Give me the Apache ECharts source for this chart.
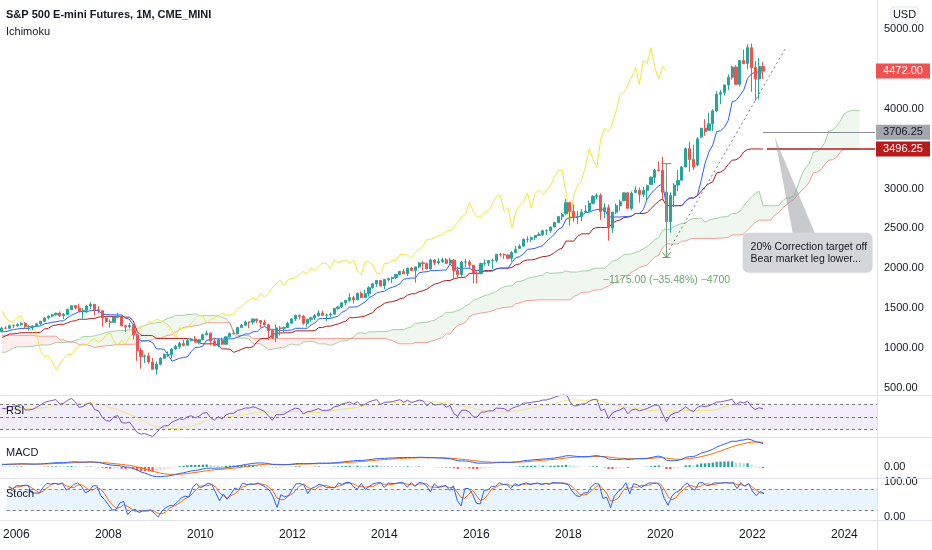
<!DOCTYPE html>
<html><head><meta charset="utf-8">
<script src="https://cdn.jsdelivr.net/npm/echarts@6/dist/echarts.min.js"></script>
<style>html,body{margin:0;padding:0;background:#fff}#c{width:932px;height:550px}</style>
</head><body><div id="c"></div>
<script>
// ---------------- DATA ----------------
const dataStart = [1999, 7];           // first month of the OHLC rows
// monthly [open, high, low, close]
const ohlc1999_2002 = [
[1373,1420,1325,1329],[1329,1357,1268,1320],[1320,1361,1268,1283],[1283,1373,1233,1363],[1363,1424,1343,1389],[1389,1473,1387,1469],
[1469,1478,1350,1395],[1395,1445,1326,1366],[1366,1553,1346,1499],[1499,1528,1339,1452],[1452,1481,1361,1421],[1421,1475,1420,1455],
[1455,1518,1413,1431],[1431,1525,1423,1518],[1518,1531,1419,1437],[1437,1439,1305,1429],[1429,1438,1307,1315],[1315,1389,1254,1320],
[1320,1384,1274,1366],[1366,1377,1215,1240],[1240,1264,1081,1160],[1160,1269,1091,1250],[1250,1316,1232,1256],[1256,1287,1203,1224],
[1224,1240,1165,1211],[1211,1226,1124,1134],[1134,1143,945,1041],[1041,1111,1027,1060],[1060,1164,1054,1140],[1140,1173,1114,1148],
[1148,1176,1101,1130],[1130,1131,1074,1107],[1107,1173,1106,1147],[1147,1147,1063,1077],[1077,1106,1049,1067],[1067,1070,953,990],
[990,994,775,912],[912,965,833,916],[916,925,815,815],[815,907,768,886],[886,952,872,936],[936,954,872,880]
];
const ohlc2003_2008 = [
[880,935,840,856],[856,864,806,841],[841,896,789,848],[848,925,847,917],[917,965,902,964],[964,1015,963,975],
[975,1015,962,990],[990,1012,960,1008],[1008,1040,990,996],[996,1054,996,1051],[1051,1064,1031,1058],[1058,1112,1057,1112],
[1112,1155,1106,1131],[1131,1159,1124,1145],[1145,1164,1087,1126],[1126,1150,1107,1107],[1107,1128,1076,1121],[1121,1147,1113,1141],
[1141,1141,1078,1102],[1102,1109,1060,1104],[1104,1131,1102,1115],[1115,1138,1090,1130],[1130,1188,1128,1174],[1174,1217,1163,1212],
[1212,1217,1164,1181],[1181,1212,1180,1204],[1204,1229,1174,1181],[1181,1192,1137,1157],[1157,1200,1146,1192],[1192,1219,1188,1191],
[1191,1245,1183,1234],[1234,1245,1201,1220],[1220,1243,1206,1229],[1229,1233,1168,1207],[1207,1270,1201,1250],[1250,1276,1245,1248],
[1248,1295,1245,1280],[1280,1297,1253,1281],[1281,1310,1268,1295],[1295,1326,1280,1311],[1311,1326,1245,1270],[1270,1290,1219,1270],
[1270,1283,1225,1277],[1277,1310,1265,1304],[1304,1340,1290,1336],[1336,1389,1327,1378],[1378,1407,1360,1401],[1401,1431,1385,1418],
[1418,1441,1403,1438],[1438,1461,1389,1407],[1407,1439,1364,1421],[1421,1499,1416,1482],[1482,1535,1476,1531],[1531,1540,1484,1503],
[1503,1556,1453,1455],[1455,1504,1371,1474],[1474,1538,1439,1527],[1527,1576,1490,1549],[1549,1552,1407,1481],[1481,1524,1435,1468],
[1468,1471,1270,1379],[1379,1396,1317,1331],[1331,1359,1257,1323],[1323,1397,1312,1386],[1386,1441,1373,1400],[1400,1405,1272,1280],
[1280,1292,1200,1267],[1267,1314,1247,1283],[1283,1304,1107,1166],[1166,1167,840,969],[969,1007,741,896],[896,919,815,903]
];
const ohlc2009_2014 = [
[903,944,805,826],[826,875,735,735],[735,832,666,798],[798,888,784,873],[873,930,866,919],[919,957,888,919],
[919,997,869,988],[988,1040,979,1021],[1021,1080,991,1057],[1057,1102,1020,1036],[1036,1112,1030,1096],[1096,1130,1086,1115],
[1115,1151,1071,1074],[1074,1112,1045,1104],[1104,1181,1102,1169],[1169,1220,1157,1187],[1187,1197,1040,1089],[1089,1131,1028,1031],
[1031,1120,1011,1102],[1102,1130,1040,1049],[1049,1149,1040,1141],[1141,1196,1131,1183],[1183,1228,1173,1181],[1181,1263,1181,1258],
[1258,1303,1257,1286],[1286,1344,1284,1327],[1327,1332,1249,1326],[1326,1370,1295,1364],[1364,1371,1312,1345],[1345,1346,1259,1321],
[1321,1357,1282,1292],[1292,1307,1101,1219],[1219,1230,1114,1131],[1131,1293,1075,1253],[1253,1277,1158,1247],[1247,1270,1202,1258],
[1258,1333,1258,1312],[1312,1378,1311,1366],[1366,1420,1340,1408],[1408,1422,1357,1398],[1398,1416,1292,1310],[1310,1364,1267,1362],
[1362,1392,1325,1379],[1379,1427,1354,1407],[1407,1475,1397,1441],[1441,1470,1403,1412],[1412,1434,1343,1416],[1416,1448,1386,1426],
[1426,1504,1426,1498],[1498,1530,1485,1515],[1515,1570,1501,1569],[1569,1598,1536,1598],[1598,1687,1582,1631],[1631,1655,1560,1606],
[1606,1698,1605,1686],[1686,1710,1627,1633],[1633,1730,1633,1682],[1682,1776,1646,1757],[1757,1813,1746,1806],[1806,1849,1768,1848],
[1848,1850,1770,1783],[1783,1867,1738,1860],[1860,1884,1834,1872],[1872,1897,1815,1884],[1884,1924,1863,1924],[1924,1968,1915,1960],
[1960,1991,1931,1931],[1931,2005,1905,2003],[2003,2019,1965,1972],[1972,2018,1821,2018],[2018,2075,2001,2068],[2068,2093,1973,2059]
];
const ohlc2015_2019 = [
[2059,2072,1988,1995],[1995,2120,1981,2105],[2105,2118,2039,2068],[2068,2126,2048,2086],[2086,2135,2068,2107],[2107,2130,2056,2063],
[2063,2133,2044,2104],[2104,2113,1867,1972],[1972,2021,1872,1920],[1920,2094,1893,2079],[2079,2116,2019,2080],[2080,2104,1993,2044],
[2038,2038,1812,1940],[1940,1963,1810,1932],[1932,2073,1931,2060],[2060,2112,2033,2065],[2065,2103,2026,2097],[2097,2121,1992,2099],
[2099,2178,2075,2174],[2174,2194,2147,2171],[2171,2188,2120,2168],[2168,2175,2114,2126],[2126,2214,2084,2199],[2199,2278,2187,2239],
[2251,2301,2245,2279],[2279,2372,2271,2364],[2364,2401,2322,2363],[2363,2399,2329,2384],[2384,2418,2353,2412],[2412,2454,2405,2423],
[2423,2484,2407,2470],[2470,2491,2417,2472],[2472,2520,2446,2519],[2519,2582,2520,2575],[2575,2658,2566,2648],[2648,2695,2605,2674],
[2683,2873,2674,2824],[2824,2836,2533,2714],[2714,2801,2585,2641],[2641,2718,2553,2648],[2648,2743,2594,2705],[2705,2791,2699,2718],
[2718,2848,2699,2816],[2816,2917,2803,2902],[2902,2941,2864,2914],[2914,2940,2604,2712],[2712,2815,2631,2760],[2760,2800,2346,2507],
[2507,2708,2444,2704],[2704,2813,2682,2785],[2785,2860,2722,2834],[2848,2949,2840,2946],[2946,2954,2751,2752],[2752,2964,2728,2942],
[2952,3028,2945,2980],[2980,3014,2822,2927],[2927,3022,2892,2977],[2977,3050,2855,3038],[3050,3154,3050,3141],[3141,3248,3070,3231]
];
const ohlc2020_2022 = [
[3231,3338,3214,3226],[3226,3397,2855,2954],[2954,3137,2174,2585],[2585,2955,2447,2912],[2912,3068,2767,3044],[3044,3233,2965,3100],
[3105,3280,3101,3271],[3271,3515,3268,3500],[3500,3588,3210,3363],[3363,3550,3234,3270],[3296,3646,3280,3622],[3645,3760,3633,3756],
[3756,3870,3662,3714],[3731,3950,3725,3811],[3811,3995,3723,3973],[3973,4218,3955,4181],[4181,4238,4057,4204],[4204,4302,4165,4298],
[4298,4430,4234,4395],[4395,4538,4367,4523],[4523,4546,4306,4307],[4307,4608,4279,4605],[4605,4744,4560,4567],[4567,4808,4495,4766],
[4766,4818.5,4212,4516],[4516,4595,4101.75,4374],[4374,4637,4114,4530],[4530,4589,4374,4472]
];
const axisStart = [2005, 11];          // first visible month
const axisEnd = [2024, 9];             // last visible month
const targetPrice = 3706.25;
const trendline = [['2020-03', 2174], ['2022-10', 4775]];
const measure = { month: '2020-03', from: 3311.75, to: 2136.75, text: '\u22121175.00 (\u221235.48%) \u22124700' };
const note = { month: '2022-07', price: 3650, lines: ['20% Correction target off', 'Bear market leg lower...'] };
const titleText = 'S&P 500 E-mini Futures, 1M, CME_MINI';
const studyText = 'Ichimoku';

// ---------------- HELPERS ----------------
const ohlc = [].concat(ohlc1999_2002, ohlc2003_2008, ohlc2009_2014, ohlc2015_2019, ohlc2020_2022);
const pad = n => (n < 10 ? '0' : '') + n;
function monthList(start, end) {
  const out = []; let y = start[0], m = start[1];
  while (y < end[0] || (y === end[0] && m <= end[1])) { out.push(y + '-' + pad(m)); m++; if (m > 12) { m = 1; y++; } }
  return out;
}
const N = ohlc.length;
const lastM = (function(){ let y = dataStart[0], m = dataStart[1] + N - 1; y += Math.floor((m - 1) / 12); m = (m - 1) % 12 + 1; return [y, m]; })();
const dataMonths = monthList(dataStart, lastM);
const categories = monthList(axisStart, axisEnd);
const off = dataMonths.indexOf(categories[0]);
const O = ohlc.map(r => r[0]), H = ohlc.map(r => r[1]), L = ohlc.map(r => r[2]), C = ohlc.map(r => r[3]);

function donchian(i, p) { if (i < p - 1) return null; let h = -Infinity, l = Infinity;
  for (let k = i - p + 1; k <= i; k++) { h = Math.max(h, H[k]); l = Math.min(l, L[k]); } return (h + l) / 2; }
const tenkan = C.map((_, i) => donchian(i, 9));
const kijun = C.map((_, i) => donchian(i, 26));
const spanB = C.map((_, i) => donchian(i, 52));
const spanA = C.map((_, i) => (tenkan[i] != null && kijun[i] != null) ? (tenkan[i] + kijun[i]) / 2 : null);
const shift = 25;

function sma(a, p) { return a.map((_, i) => { if (i < p - 1) return null; let s = 0;
  for (let k = i - p + 1; k <= i; k++) { if (a[k] == null) return null; s += a[k]; } return s / p; }); }
function ema(a, p) { const out = []; const al = 2 / (p + 1); let prev = null;
  a.forEach((v, i) => { if (v == null) { out.push(null); return; }
    if (prev == null) { const seg = a.slice(0, i + 1).filter(x => x != null); if (seg.length < p) { out.push(null); return; }
      prev = seg.slice(-p).reduce((s, x) => s + x, 0) / p; } else prev = al * v + (1 - al) * prev; out.push(prev); }); return out; }
// RSI 14 (Wilder)
const rsi = (function(){ const p = 14, out = new Array(N).fill(null); let ag = 0, al = 0;
  for (let i = 1; i < N; i++) { const ch = C[i] - C[i - 1], g = Math.max(ch, 0), l = Math.max(-ch, 0);
    if (i <= p) { ag += g / p; al += l / p; if (i === p) out[i] = 100 - 100 / (1 + ag / al); }
    else { ag = (ag * (p - 1) + g) / p; al = (al * (p - 1) + l) / p; out[i] = al === 0 ? 100 : 100 - 100 / (1 + ag / al); } }
  return out; })();
const rsiMA = sma(rsi, 14);
const e12 = ema(C, 12), e26 = ema(C, 26);
const macd = C.map((_, i) => (e12[i] != null && e26[i] != null) ? e12[i] - e26[i] : null);
const signal = ema(macd, 9);
const hist = macd.map((v, i) => (v != null && signal[i] != null) ? v - signal[i] : null);
const stochK = C.map((_, i) => { if (i < 13) return null; let h = -Infinity, l = Infinity;
  for (let k = i - 13; k <= i; k++) { h = Math.max(h, H[k]); l = Math.min(l, L[k]); } return 100 * (C[i] - l) / (h - l); });
const stochD = sma(stochK, 3);

const at = (arr, i) => (i >= 0 && i < N && arr[i] != null) ? +arr[i].toFixed(2) : '-';
const vis = arr => categories.map((_, j) => at(arr, j + off));
const candleData = []; for (let j = 0; j + off < N; j++) { const i = j + off; candleData.push([O[i], C[i], L[i], H[i]]); }
const sA = categories.map((_, j) => at(spanA, j + off - shift));
const sB = categories.map((_, j) => at(spanB, j + off - shift));
const chikou = categories.map((_, j) => at(C, j + off + shift));
const cloudLow = sA.map((a, j) => (a === '-' || sB[j] === '-') ? '-' : Math.min(a, sB[j]));
const cloudGreen = sA.map((a, j) => (a === '-' || sB[j] === '-') ? '-' : Math.max(a - sB[j], 0));
const cloudRed = sA.map((a, j) => (a === '-' || sB[j] === '-') ? '-' : Math.max(sB[j] - a, 0));
const histData = categories.map((_, j) => { const i = j + off; const v = at(hist, i); if (v === '-') return '-';
  const pv = hist[i - 1]; const rising = pv == null || hist[i] >= pv;
  const col = hist[i] >= 0 ? (rising ? '#26a69a' : '#b2dfdb') : (rising ? '#ffcdd2' : '#ff5252');
  return { value: v, itemStyle: { color: col } }; });
let macdMax = 0;
for (let j = 0; j + off < N; j++) { const i = j + off; [macd[i], signal[i]].forEach(v => { if (v != null) macdMax = Math.max(macdMax, Math.abs(v)); }); }
const lastClose = C[N - 1];
const lastKijun = kijun[N - 1];
const lastMonth = dataMonths[N - 1];
const endMonth = categories[categories.length - 1];
const nextMonth = categories[N - off];

// ---------------- CHART ----------------
const FONT = '"Liberation Sans", Arial, sans-serif';
const TXT = '#131722';
const chart = echarts.init(document.getElementById('c'));
const grids = [
  { left: -4, width: 881, top: 29, height: 359 },
  { left: -4, width: 881, top: 395, height: 42 },
  { left: -4, width: 881, top: 437, height: 41 },
  { left: -4, width: 881, top: 478, height: 42 }
];
const xAxes = grids.map((g, k) => ({
  type: 'category', gridIndex: k, data: categories, boundaryGap: true,
  axisLine: { show: false }, axisTick: { show: false }, splitLine: { show: false },
  axisLabel: k === 3 ? {
    show: true, margin: 9, fontSize: 12, color: TXT, fontFamily: FONT, alignMinLabel: 'center', alignMaxLabel: 'center',
    interval: (idx, v) => v.endsWith('-01') && (+v.slice(0, 4)) % 2 === 0,
    formatter: v => v.slice(0, 4)
  } : { show: false }
}));
const yBase = { position: 'right', axisLine: { show: false }, axisTick: { show: false }, splitLine: { show: false } };
const yAxes = [
  Object.assign({}, yBase, { gridIndex: 0, type: 'value', min: 500, max: 5000, interval: 500,
    axisLabel: { margin: 7, fontSize: 11, color: TXT, fontFamily: FONT, formatter: v => v.toFixed(2) } }),
  Object.assign({}, yBase, { gridIndex: 1, type: 'value', min: 17.7, max: 84.9, axisLabel: { show: false } }),
  Object.assign({}, yBase, { gridIndex: 2, type: 'value', min: -macdMax * 11 / 28, max: macdMax * 30 / 28,
    axisLabel: { margin: 7, fontSize: 11, color: TXT, fontFamily: FONT, customValues: [0], formatter: v => v.toFixed(2) } }),
  Object.assign({}, yBase, { gridIndex: 3, type: 'value', min: -9, max: 112.8,
    axisLabel: { margin: 7, fontSize: 11, color: TXT, fontFamily: FONT, customValues: [0, 100], formatter: v => v.toFixed(2) } })
];
const line = (name, data, color, k, extra) => Object.assign({
  name, type: 'line', data, xAxisIndex: k, yAxisIndex: k, symbol: 'none', silent: true,
  lineStyle: { color, width: 1 }, itemStyle: { color }, connectNulls: false
}, extra || {});
const hidden = { lineStyle: { width: 0, opacity: 0 } };
const dash = { type: [3, 3], color: '#787b86', width: 1 };

const series = [
  line('cloudLowG', cloudLow, '#000', 0, Object.assign({ stack: 'g', z: 1 }, hidden)),
  line('cloudG', cloudGreen, '#000', 0, Object.assign({ stack: 'g', z: 1, areaStyle: { color: 'rgba(67,160,71,0.12)' } }, hidden)),
  line('cloudLowR', cloudLow, '#000', 0, Object.assign({ stack: 'r', z: 1 }, hidden)),
  line('cloudR', cloudRed, '#000', 0, Object.assign({ stack: 'r', z: 1, areaStyle: { color: 'rgba(244,67,54,0.12)' } }, hidden)),
  line('spanA', sA, 'rgba(67,160,71,0.45)', 0, { z: 2 }),
  line('spanB', sB, 'rgba(244,67,54,0.5)', 0, { z: 2 }),
  line('chikou', chikou, '#f5e63d', 0, { z: 3 }),
  line('kijun', vis(kijun), '#b71c1c', 0, { z: 3,
    markLine: { silent: true, symbol: 'none', label: { show: false }, lineStyle: { color: '#b71c1c', width: 1.5, type: 'solid' },
      data: [[{ coord: [nextMonth, lastKijun] }, { coord: [endMonth, lastKijun] }]] } }),
  line('tenkan', vis(tenkan), '#2962ff', 0, { z: 3 }),
  { name: 'ES', type: 'candlestick', xAxisIndex: 0, yAxisIndex: 0, data: candleData, barWidth: '68%', z: 5, silent: true,
    itemStyle: { color: '#26a69a', color0: '#ef5350', borderColor: '#26a69a', borderColor0: '#ef5350', borderWidth: 1 },
    markLine: { silent: true, symbol: 'none', label: { show: false }, data: [
      [{ coord: trendline[0], lineStyle: { type: [2, 3], color: '#787b86', width: 1 } }, { coord: trendline[1] }],
      [{ coord: [lastMonth, targetPrice], lineStyle: { type: 'solid', color: '#8a8d96', width: 1.2 } }, { coord: [endMonth, targetPrice] }]
    ] } },
  line('RSI', vis(rsi), '#7e57c2', 1, { z: 3,
    markArea: { silent: true, itemStyle: { color: 'rgba(126,87,194,0.1)' }, data: [[{ yAxis: 70 }, { yAxis: 30 }]] },
    markLine: { silent: true, symbol: 'none', label: { show: false }, lineStyle: dash, data: [{ yAxis: 70 }, { yAxis: 50 }, { yAxis: 30 }] } }),
  line('RSI MA', vis(rsiMA), '#f3e77a', 1, { z: 2 }),
  { name: 'Hist', type: 'bar', xAxisIndex: 2, yAxisIndex: 2, data: histData, barWidth: '60%', silent: true, z: 1 },
  line('MACD', vis(macd), '#2962ff', 2, { z: 3 }),
  line('Signal', vis(signal), '#ff6d00', 2, { z: 2 }),
  line('%K', vis(stochK), '#2962ff', 3, { z: 3,
    markArea: { silent: true, itemStyle: { color: 'rgba(33,150,243,0.1)' }, data: [[{ yAxis: 80 }, { yAxis: 20 }]] },
    markLine: { silent: true, symbol: 'none', label: { show: false }, lineStyle: dash, data: [{ yAxis: 80 }, { yAxis: 20 }] } }),
  line('%D', vis(stochD), '#ff6d00', 3, { z: 2 })
];

chart.setOption({
  animation: false, backgroundColor: '#ffffff',
  grid: grids, xAxis: xAxes, yAxis: yAxes, series
});

// ---------------- OVERLAYS (anchored through the axes) ----------------
const px = (m, v) => chart.convertToPixel({ xAxisIndex: 0, yAxisIndex: 0 }, [m, v]);
const py = v => chart.convertToPixel({ yAxisIndex: 0 }, v);
const sep = '#e0e3eb';
const g = [];
[395, 437, 478, 520].forEach(y => g.push({ type: 'line', shape: { x1: 0, y1: y + 0.5, x2: 932, y2: y + 0.5 }, style: { stroke: sep, lineWidth: 1 }, z: 10 }));
g.push({ type: 'line', shape: { x1: 877.5, y1: 0, x2: 877.5, y2: 550 }, style: { stroke: sep, lineWidth: 1 }, z: 10 });
// titles
g.push({ type: 'text', x: 6, y: 15, style: { text: titleText, font: 'bold 11px ' + FONT, fill: TXT, textVerticalAlign: 'middle' }, z: 20 });
g.push({ type: 'text', x: 6, y: 32, style: { text: studyText, font: '11px ' + FONT, fill: TXT, textVerticalAlign: 'middle' }, z: 20 });
[['RSI', 411], ['MACD', 453], ['Stoch', 494]].forEach(([t, y]) =>
  g.push({ type: 'text', x: 6, y, style: { text: t, font: '11px ' + FONT, fill: TXT, textVerticalAlign: 'middle' }, z: 20 }));
// USD
g.push({ type: 'rect', shape: { x: 891, y: 7, width: 27, height: 16, r: 3 }, style: { fill: '#fff', stroke: '#e0e3eb' }, z: 30 });
g.push({ type: 'text', x: 904.5, y: 15, style: { text: 'USD', font: '11px ' + FONT, fill: TXT, textAlign: 'center', textVerticalAlign: 'middle' }, z: 31 });
// price tags
[[lastClose, '#f05252', '#ffffff'], [targetPrice, '#a3a6ae', '#131722'], [lastKijun, '#b71c1c', '#ffffff']].forEach(([v, bg, fg]) => {
  const y = py(v);
  g.push({ type: 'rect', shape: { x: 876, y: y - 7.5, width: 54, height: 15 }, style: { fill: bg }, z: 30 });
  g.push({ type: 'text', x: 903, y: y, style: { text: v.toFixed(2), font: '11px ' + FONT, fill: fg, textAlign: 'center', textVerticalAlign: 'middle' }, z: 31 });
});
// measure tool
const m1 = px(measure.month, measure.from), m2 = px(measure.month, measure.to);
const mc = '#5f9e68';
g.push({ type: 'line', shape: { x1: m1[0], y1: m1[1], x2: m2[0], y2: m2[1] }, style: { stroke: '#7f9a84', lineWidth: 1 }, z: 12 });
g.push({ type: 'line', shape: { x1: m1[0] - 5, y1: m1[1], x2: m1[0] + 5, y2: m1[1] }, style: { stroke: mc, lineWidth: 1 }, z: 12 });
g.push({ type: 'polyline', shape: { points: [[m2[0] - 4, m2[1] - 5], [m2[0], m2[1]], [m2[0] + 4, m2[1] - 5]] }, style: { stroke: mc, lineWidth: 1, fill: null }, z: 12 });
g.push({ type: 'line', shape: { x1: m2[0] - 4, y1: m2[1], x2: m2[0] + 4, y2: m2[1] }, style: { stroke: mc, lineWidth: 1 }, z: 12 });
g.push({ type: 'text', x: m2[0], y: m2[1] + 23, style: { text: measure.text, font: '10.5px ' + FONT, fill: '#6aa870', textAlign: 'center', textVerticalAlign: 'middle' }, z: 12 });
// callout
const a = px(note.month, note.price);
const bx = a[0] - 32, by = a[1] + 96;
g.push({ type: 'polygon', shape: { points: [[a[0], a[1]], [a[0] + 18, by], [a[0] + 40, by]] }, style: { fill: 'rgba(134,137,147,0.45)' }, z: 14 });
g.push({ type: 'rect', shape: { x: bx, y: by, width: 130, height: 40, r: 6 }, style: { fill: 'rgba(160,163,172,0.45)' }, z: 14 });
note.lines.forEach((t, k) => g.push({ type: 'text', x: bx + 8, y: by + 14 + k * 12, style: { text: t, font: '10.5px ' + FONT, fill: TXT, textVerticalAlign: 'middle' }, z: 15 }));
chart.setOption({ graphic: g });
</script>
</body></html>
